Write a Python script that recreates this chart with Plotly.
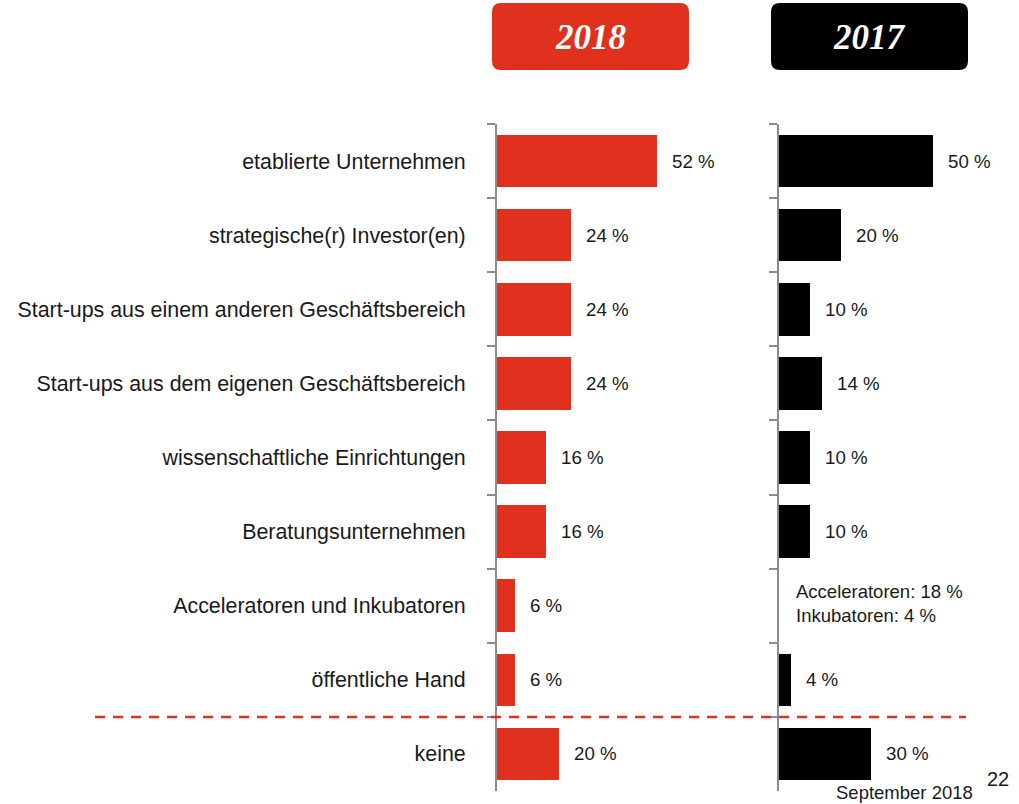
import plotly.graph_objects as go

categories = [
    "etablierte Unternehmen",
    "strategische(r) Investor(en)",
    "Start-ups aus einem anderen Geschäftsbereich",
    "Start-ups aus dem eigenen Geschäftsbereich",
    "wissenschaftliche Einrichtungen",
    "Beratungsunternehmen",
    "Acceleratoren und Inkubatoren",
    "öffentliche Hand",
    "keine",
]
values_2018 = [52, 24, 24, 24, 16, 16, 6, 6, 20]
values_2017 = [50, 20, 10, 14, 10, 10, None, 4, 30]
note_2017 = "Acceleratoren: 18 %<br>Inkubatoren: 4 %"
panel_titles = ["2018", "2017"]

RED = "#E0301E"
BLACK = "#000000"
AXIS = "#8c8c8c"
TXT = "#1a1a1a"
W, H = 1019, 804


def px(x):
    return x / W


def py(y):
    return 1 - y / H


def rounded_box(x0, y0, x1, y1, r=9):
    rx, ry = r / W, r / H
    X0, X1 = px(x0), px(x1)
    Y0, Y1 = py(y1), py(y0)  # bottom, top
    return (
        f"M {X0+rx},{Y0} L {X1-rx},{Y0} Q {X1},{Y0} {X1},{Y0+ry} "
        f"L {X1},{Y1-ry} Q {X1},{Y1} {X1-rx},{Y1} "
        f"L {X0+rx},{Y1} Q {X0},{Y1} {X0},{Y1-ry} "
        f"L {X0},{Y0+ry} Q {X0},{Y0} {X0+rx},{Y0} Z"
    )


fig = go.Figure()

fig.add_trace(go.Bar(
    y=categories, x=values_2018, orientation="h", marker=dict(color=RED, line=dict(width=0)),
    width=0.71, xaxis="x", yaxis="y", hoverinfo="skip", showlegend=False,
))
fig.add_trace(go.Bar(
    y=categories, x=values_2017, orientation="h", marker=dict(color=BLACK, line=dict(width=0)),
    width=0.71, xaxis="x2", yaxis="y2", hoverinfo="skip", showlegend=False,
))

scale = 3.08  # px per percent
ydom = [py(791), py(124)]
common_y = dict(
    type="category", categoryorder="array", categoryarray=categories,
    range=[8.5, -0.5], domain=ydom, tickson="boundaries", ticks="outside",
    ticklen=8, tickwidth=1.5, tickcolor=AXIS, showline=True, linecolor=AXIS,
    linewidth=2, showgrid=False, zeroline=False, fixedrange=True,
)

fig.update_layout(
    width=W, height=H, margin=dict(l=0, r=0, t=0, b=0),
    paper_bgcolor="white", plot_bgcolor="white", bargap=0,
    font=dict(family="Liberation Sans, Arial, sans-serif", color=TXT),
    xaxis=dict(domain=[px(497), px(760)], range=[0, (760 - 497) / scale], visible=False,
               fixedrange=True),
    xaxis2=dict(domain=[px(779), 1], range=[0, (W - 779) / scale], visible=False,
                fixedrange=True),
    yaxis=dict(**common_y, anchor="x", showticklabels=True,
               tickfont=dict(size=21.4, color=TXT), ticklabelstandoff=25),
    yaxis2=dict(**common_y, anchor="x2", showticklabels=False),
)

annotations = []
for cat, v in zip(categories, values_2018):
    if v is not None:
        annotations.append(dict(x=v, y=cat, xref="x", yref="y", text=f"{v} %",
                                showarrow=False, xanchor="left", xshift=13,
                                font=dict(size=18.7, color=TXT)))
for cat, v in zip(categories, values_2017):
    if v is not None:
        annotations.append(dict(x=v, y=cat, xref="x2", yref="y2", text=f"{v} %",
                                showarrow=False, xanchor="left", xshift=13,
                                font=dict(size=18.7, color=TXT)))
    else:
        annotations.append(dict(x=0, y=cat, xref="x2", yref="y2", text=note_2017,
                                showarrow=False, xanchor="left", xshift=15, align="left",
                                yshift=2, font=dict(size=18.5, color=TXT)))

# panel headers
boxes = [(492, 3, 689, 70, RED), (771, 3, 968, 70, BLACK)]
shapes = []
for (x0, y0, x1, y1, col), title in zip(boxes, panel_titles):
    shapes.append(dict(type="path", path=rounded_box(x0, y0, x1, y1), xref="paper",
                       yref="paper", fillcolor=col, line=dict(width=0), layer="below"))
    annotations.append(dict(x=px((x0 + x1) / 2), y=py(37), xref="paper",
                            yref="paper", text=f"<b><i>{title}</i></b>", showarrow=False,
                            xanchor="center", yanchor="middle",
                            font=dict(family="Liberation Serif, Times New Roman, serif",
                                      size=35, color="white")))

# dashed separator before "keine"
shapes.append(dict(type="line", xref="paper", yref="y", x0=px(95), x1=px(966),
                   y0=7.5, y1=7.5, line=dict(color=RED, width=2.5, dash="10px,8px")))

# footer
annotations.append(dict(x=px(975), y=py(792), xref="paper", yref="paper",
                        text="September 2018", showarrow=False, xanchor="right",
                        yanchor="middle", font=dict(size=18.5, color=TXT)))
annotations.append(dict(x=px(1011), y=py(779), xref="paper", yref="paper",
                        text="22", showarrow=False, xanchor="right",
                        yanchor="middle", font=dict(size=20, color=TXT)))

fig.update_layout(shapes=shapes, annotations=annotations)
fig.write_html("out.html", config={"displayModeBar": False},
               post_script="document.body.style.margin='0';document.body.style.overflow='hidden';")
